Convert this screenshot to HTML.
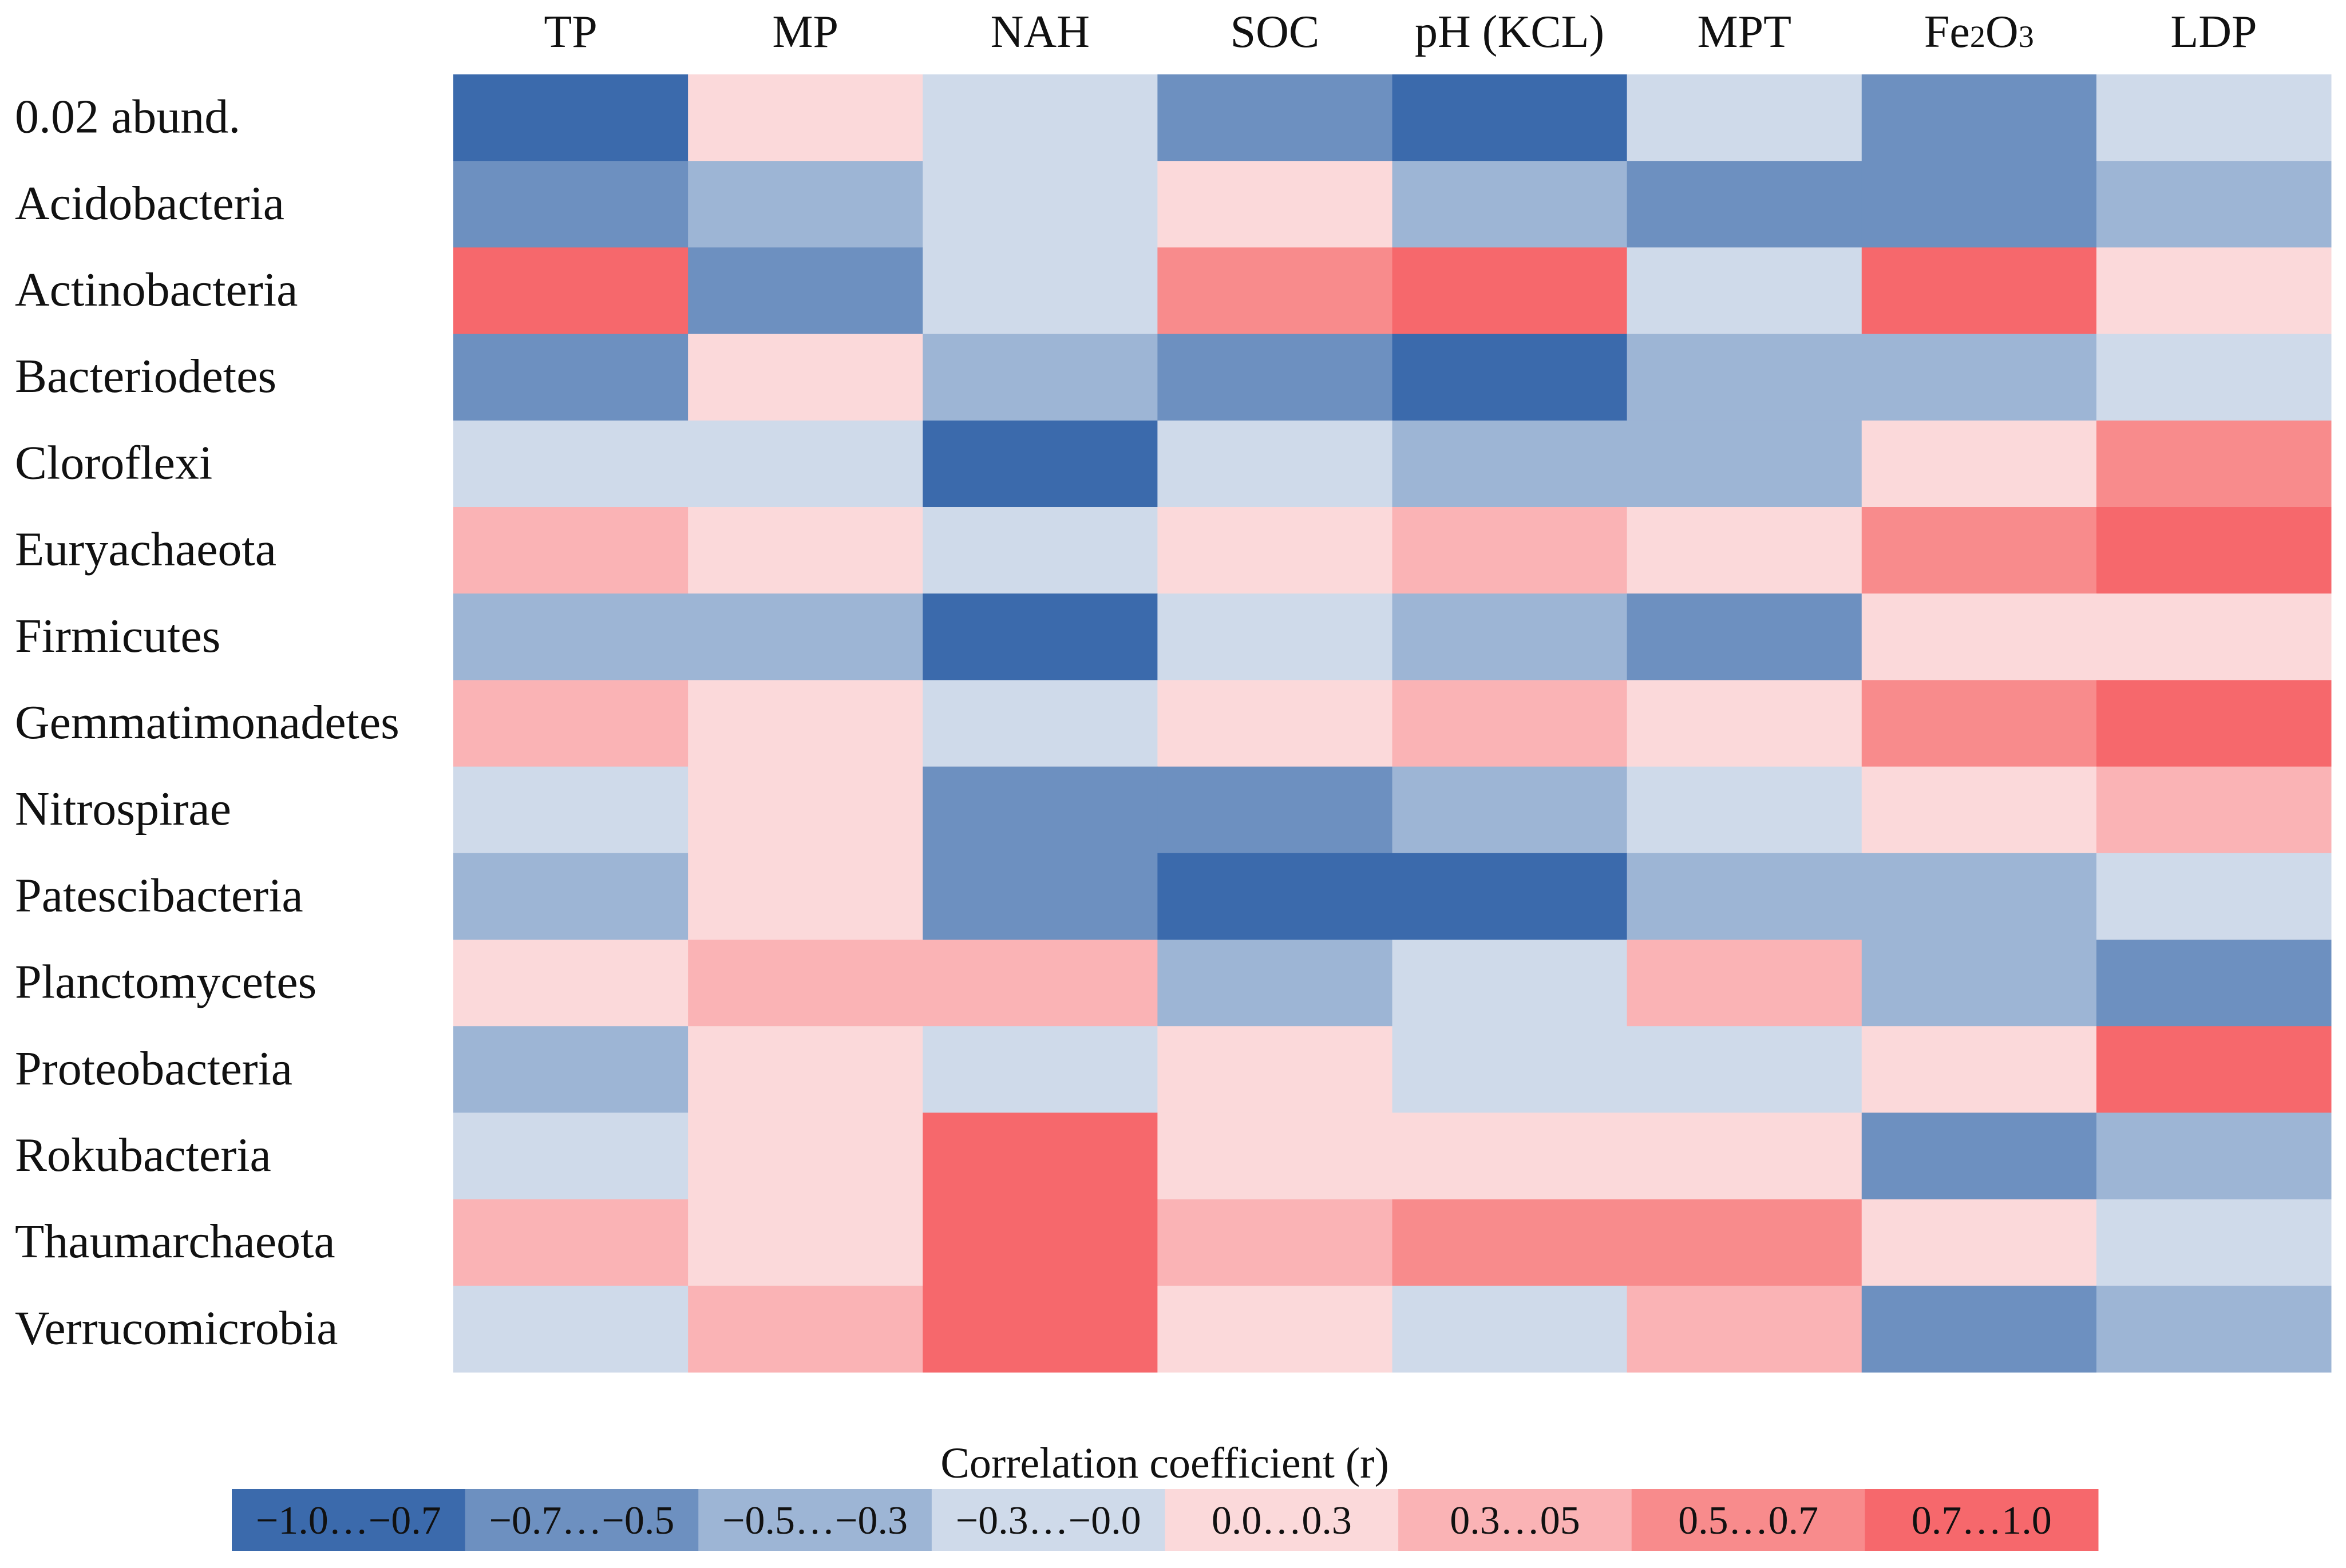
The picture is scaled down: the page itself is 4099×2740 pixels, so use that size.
<!DOCTYPE html>
<html><head><meta charset="utf-8"><style>
body{margin:0;background:#fff;}
svg text{font-family:"Liberation Serif",serif;fill:#111;}
</style></head><body>
<svg id="chart" width="4099" height="2735" xmlns="http://www.w3.org/2000/svg">
<g id="cells"></g>
<g id="rowlabels"></g>
<g id="collabels"></g>
<text x="2035" y="2582" font-size="76" text-anchor="middle">Correlation coefficient (r)</text>
<g id="legend"></g>
</svg>
<script>
const rows = ["0.02 abund.","Acidobacteria","Actinobacteria","Bacteriodetes","Cloroflexi","Euryachaeota","Firmicutes","Gemmatimonadetes","Nitrospirae","Patescibacteria","Planctomycetes","Proteobacteria","Rokubacteria","Thaumarchaeota","Verrucomicrobia"];
const cols = ["TP","MP","NAH","SOC","pH (KCL)","MPT","Fe2O3","LDP"];
const r0 = [-0.85,0.15,-0.15,-0.6,-0.85,-0.15,-0.6,-0.15];
const r1 = [-0.6,-0.4,-0.15,0.15,-0.4,-0.6,-0.6,-0.4];
const r2 = [0.85,-0.6,-0.15,0.6,0.85,-0.15,0.85,0.15];
const r3 = [-0.6,0.15,-0.4,-0.6,-0.85,-0.4,-0.4,-0.15];
const r4 = [-0.15,-0.15,-0.85,-0.15,-0.4,-0.4,0.15,0.6];
const r5 = [0.4,0.15,-0.15,0.15,0.4,0.15,0.6,0.85];
const r6 = [-0.4,-0.4,-0.85,-0.15,-0.4,-0.6,0.15,0.15];
const r7 = [0.4,0.15,-0.15,0.15,0.4,0.15,0.6,0.85];
const r8 = [-0.15,0.15,-0.6,-0.6,-0.4,-0.15,0.15,0.4];
const r9 = [-0.4,0.15,-0.6,-0.85,-0.85,-0.4,-0.4,-0.15];
const r10 = [0.15,0.4,0.4,-0.4,-0.15,0.4,-0.4,-0.6];
const r11 = [-0.4,0.15,-0.15,0.15,-0.15,-0.15,0.15,0.85];
const r12 = [-0.15,0.15,0.85,0.15,0.15,0.15,-0.6,-0.4];
const r13 = [0.4,0.15,0.85,0.4,0.6,0.6,0.15,-0.15];
const r14 = [-0.15,0.4,0.85,0.15,-0.15,0.4,-0.6,-0.4];
const values = [r0,r1,r2,r3,r4,r5,r6,r7,r8,r9,r10,r11,r12,r13,r14];
const binEdges = [-1,-0.7,-0.5,-0.3,0,0.3,0.5,0.7,1];
const binLabels = ["\u22121.0\u2026\u22120.7","\u22120.7\u2026\u22120.5","\u22120.5\u2026\u22120.3","\u22120.3\u2026\u22120.0","0.0\u20260.3","0.3\u202605","0.5\u20260.7","0.7\u20261.0"];
const palette = ["#3b6aac","#6d90c0","#9db5d5","#cfdaea","#fbd9da","#fab3b5","#f88b8c","#f6686c"];

const NS="http://www.w3.org/2000/svg";
const X0=792,X1=4073,Y0=130,Y1=2398;
const cw=(X1-X0)/cols.length, rh=(Y1-Y0)/rows.length;
const xS=i=>X0+i*cw, yS=j=>Y0+j*rh;
function colorOf(v){for(let k=0;k<8;k++){if(v<binEdges[k+1]||k===7)return palette[k];}}
const gC=document.getElementById('cells');
values.forEach((row,j)=>row.forEach((v,i)=>{
 const r=document.createElementNS(NS,'rect');
 r.setAttribute('x',xS(i));r.setAttribute('y',yS(j));
 r.setAttribute('width',cw+0.5);r.setAttribute('height',rh+0.5);
 r.setAttribute('fill',colorOf(v));
 
 
 gC.appendChild(r);
}));
const gR=document.getElementById('rowlabels');
rows.forEach((n,j)=>{
 const t=document.createElementNS(NS,'text');
 t.setAttribute('x',26);t.setAttribute('y',yS(j)+rh/2+26);
 t.setAttribute('font-size','84');t.textContent=n;
 
 
 gR.appendChild(t);
});
const gL=document.getElementById('collabels');
cols.forEach((n,i)=>{
 const t=document.createElementNS(NS,'text');
 t.setAttribute('x',xS(i)+cw/2);t.setAttribute('y',82);
 t.setAttribute('font-size','80');t.setAttribute('text-anchor','middle');
 if(n==="Fe2O3"){t.innerHTML='Fe<tspan font-size="54">2</tspan>O<tspan font-size="54">3</tspan>';}
 else t.textContent=n;
 
 
 gL.appendChild(t);
});
const gG=document.getElementById('legend');
const LX0=405,LX1=3666,LY0=2602,LY1=2710,lw=(LX1-LX0)/8;
binLabels.forEach((lab,k)=>{
 const r=document.createElementNS(NS,'rect');
 r.setAttribute('x',LX0+k*lw);r.setAttribute('y',LY0);
 r.setAttribute('width',lw+0.5);r.setAttribute('height',LY1-LY0);
 r.setAttribute('fill',palette[k]);
 
 
 gG.appendChild(r);
 const t=document.createElementNS(NS,'text');
 t.setAttribute('x',LX0+k*lw+lw/2);t.setAttribute('y',LY0+78);
 t.setAttribute('font-size','70');t.setAttribute('text-anchor','middle');
 t.textContent=lab;
 
 
 gG.appendChild(t);
});
</script>
</body></html>
